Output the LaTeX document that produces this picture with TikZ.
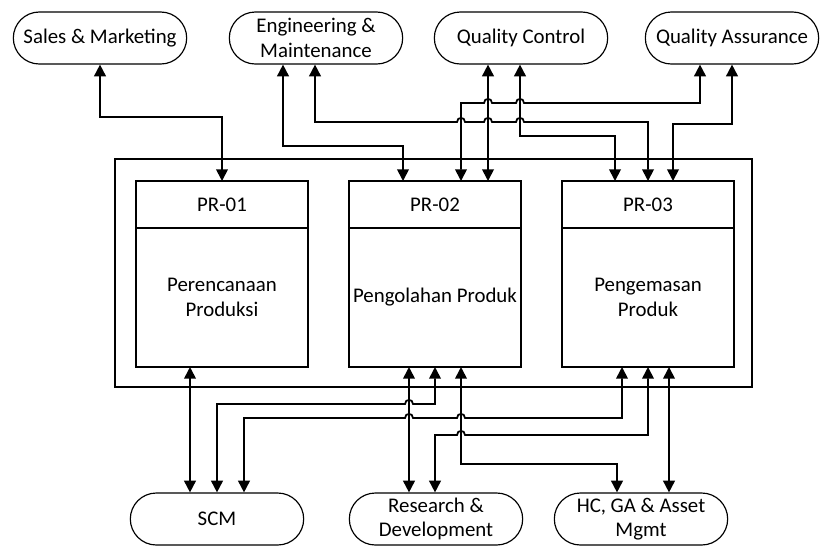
\documentclass[tikz,border=0pt]{standalone}
\usepackage{fontspec}
\setmainfont{Carlito}
\usetikzlibrary{arrows.meta}
\usetikzlibrary{positioning}

% small bridge where a line jumps over another one (left to right)
\newcommand{\hop}[2]{-- (#1-4,#2) .. controls (#1-4,#2-5.5) and (#1+4,#2-5.5) .. (#1+4,#2)}

\begin{document}
\begin{tikzpicture}[x={(0.03cm,0)},y={(0,-0.03cm)},
    font=\fontsize{17.8}{21}\selectfont,
    unit/.style={draw,line width=1pt,rounded corners=0.78cm,minimum width=5.2cm,minimum height=1.56cm,align=center,inner sep=0pt},
    head/.style={draw,line width=1pt,minimum width=5.16cm,minimum height=1.41cm,inner sep=0pt,outer sep=0pt},
    body/.style={draw,line width=1pt,minimum width=5.16cm,minimum height=4.17cm,align=center,inner sep=0pt,outer sep=0pt},
    frame/.style={draw,line width=1pt},
    link/.style={<->,line width=1.5pt},
    >={Triangle[length=10pt,width=10pt]}]
    \useasboundingbox (0,0) rectangle (824,550);

    % UNITS
    \node[unit] (sales) at (100,38) {Sales \& Marketing};
    \node[unit] (eng) at (316,38) {Engineering \&\\Maintenance};
    \node[unit] (qc) at (521,38) {Quality Control};
    \node[unit] (qa) at (732,38) {Quality Assurance};
    \node[unit] (scm) at (217,519) {SCM};
    \node[unit] (rnd) at (436,519) {Research \&\\Development};
    \node[unit] (hc) at (641,519) {HC, GA \& Asset\\Mgmt};

    % PRODUCTION
    \draw[frame] (115,159) rectangle (752,387);
    \node[head] (pr1top) at (222,204.5) {PR-01};
    \node[body,below=0pt of pr1top] (pr1) {Perencanaan\\Produksi};
    \node[head] (pr2top) at (435,204.5) {PR-02};
    \node[body,below=0pt of pr2top] (pr2) {Pengolahan Produk};
    \node[head] (pr3top) at (648,204.5) {PR-03};
    \node[body,below=0pt of pr3top] (pr3) {Pengemasan\\Produk};

    % TOP LINKS
    \draw[link] (sales.south) |- (222,117) -- (pr1top.north);
    \draw[link] (eng.south -| 283,0) |- (403,146) -- (pr2top.north -| 403,0);
    \draw[link] (eng.south -| 315,0) -- (315,122) \hop{461}{122} \hop{488}{122} \hop{520}{122} -| (pr3top.north);
    \draw[link] (qc.south -| 488,0) -- (pr2top.north -| 488,0);
    \draw[link] (qc.south -| 520,0) |- (615,136) -- (pr3top.north -| 615,0);
    \draw[link] (pr2top.north -| 461,0) -- (461,103) \hop{488}{103} \hop{520}{103} -| (qa.south -| 700,0);
    \draw[link] (qa.south) |- (673,124) -- (pr3top.north -| 673,0);

    % BOTTOM LINKS
    \draw[link] (pr1.south -| 190,0) -- (scm.north -| 190,0);
    \draw[link] (scm.north -| 217,0) -- (217,404) \hop{409}{404} -| (pr2.south);
    \draw[link] (scm.north -| 244,0) -- (244,418) \hop{409}{418} \hop{461}{418} -| (pr3.south -| 622,0);
    \draw[link] (rnd.north -| 409,0) -- (pr2.south -| 409,0);
    \draw[link] (rnd.north -| 435,0) -- (435,435) \hop{461}{435} -| (pr3.south);
    \draw[link] (pr2.south -| 461,0) |- (617,464) -- (hc.north -| 617,0);
    \draw[link] (pr3.south -| 669,0) -- (hc.north -| 669,0);
\end{tikzpicture}
\end{document}
